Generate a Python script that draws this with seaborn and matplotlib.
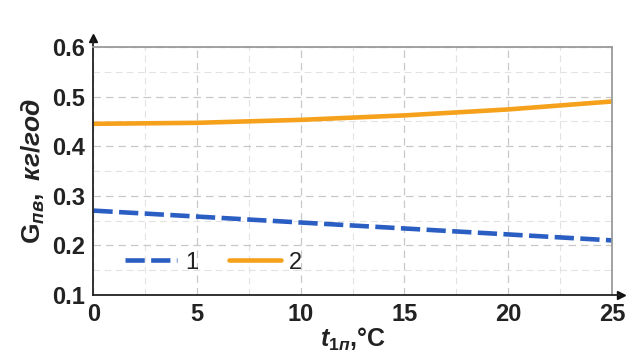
import numpy as np
import pandas as pd
import matplotlib
matplotlib.use("Agg")
import matplotlib.pyplot as plt
import seaborn as sns
from matplotlib.ticker import MultipleLocator

t = [0, 5, 10, 15, 20, 25]
g1 = [0.270, 0.258, 0.246, 0.234, 0.222, 0.210]
g2 = [0.445, 0.447, 0.453, 0.462, 0.474, 0.490]

df = pd.DataFrame({"t": t * 2, "g": g1 + g2, "series": ["1"] * 6 + ["2"] * 6})

sns.set_style("white")
plt.rcParams["font.family"] = ["Liberation Sans", "DejaVu Sans"]
plt.rcParams["mathtext.fontset"] = "custom"
plt.rcParams["mathtext.rm"] = "Liberation Sans:bold"
plt.rcParams["mathtext.it"] = "Liberation Sans:bold:italic"
plt.rcParams["mathtext.bf"] = "Liberation Sans:bold"

fig = plt.figure(figsize=(6.4, 3.61), dpi=100)
ax = fig.add_axes([0.146, 0.183, 0.810, 0.687])

sns.lineplot(data=df, x="t", y="g", hue="series", style="series",
             palette={"1": "#2b5ec2", "2": "#f5a11c"},
             dashes={"1": (4.2, 1.4), "2": ""}, linewidth=3.3, ax=ax)

ax.set_xlim(0, 25)
ax.set_ylim(0.1, 0.6)
ax.xaxis.set_major_locator(MultipleLocator(5))
ax.xaxis.set_minor_locator(MultipleLocator(2.5))
ax.yaxis.set_major_locator(MultipleLocator(0.1))
ax.yaxis.set_minor_locator(MultipleLocator(0.05))
ax.set_yticklabels([f"{v:.1f}" for v in ax.get_yticks()])
ax.grid(which="major", color="#c8c8c8", linestyle=(0, (6, 4)), linewidth=0.9)
ax.grid(which="minor", color="#e2e2e2", linestyle=(0, (6, 4)), linewidth=0.8)
ax.set_axisbelow(True)

ax.tick_params(which="major", direction="out", length=4, width=1, color="#333333",
               labelsize=17, pad=2)
ax.tick_params(which="minor", direction="out", length=3, width=1, color="#333333")
for lab in ax.get_xticklabels() + ax.get_yticklabels():
    lab.set_fontweight("bold")
    lab.set_color("#222222")

for s in ["left", "bottom"]:
    ax.spines[s].set_color("#222222")
    ax.spines[s].set_linewidth(1.3)
for s in ["top", "right"]:
    ax.spines[s].set_color("#9a9a9a")
    ax.spines[s].set_linewidth(1.3)

ax.plot(0, 1.035, "^", color="#111111", markersize=6, transform=ax.transAxes, clip_on=False)
ax.plot(1.018, 0, ">", color="#111111", markersize=6, transform=ax.transAxes, clip_on=False)
ax.plot([0, 0], [1, 1.03], color="#222222", lw=1.3, transform=ax.transAxes, clip_on=False)
ax.plot([1, 1.015], [0, 0], color="#222222", lw=1.3, transform=ax.transAxes, clip_on=False)

ax.set_xlabel(r"$\mathit{t}_{\mathit{1п}}$,°C", fontsize=18, fontweight="bold",
              color="#222222", labelpad=0)
ax.set_ylabel(r"$\mathrm{G}_{\mathit{пв}}\mathit{,\ кг/год}$", fontsize=19,
              color="#222222", labelpad=4)

leg = ax.legend(loc="lower left", ncol=2, frameon=False, fontsize=17,
                handlelength=2.2, columnspacing=1.3, handletextpad=0.35,
                bbox_to_anchor=(0.02, 0.0))
for txt in leg.get_texts():
    txt.set_color("#222222")

fig.savefig("out.png", dpi=100)
